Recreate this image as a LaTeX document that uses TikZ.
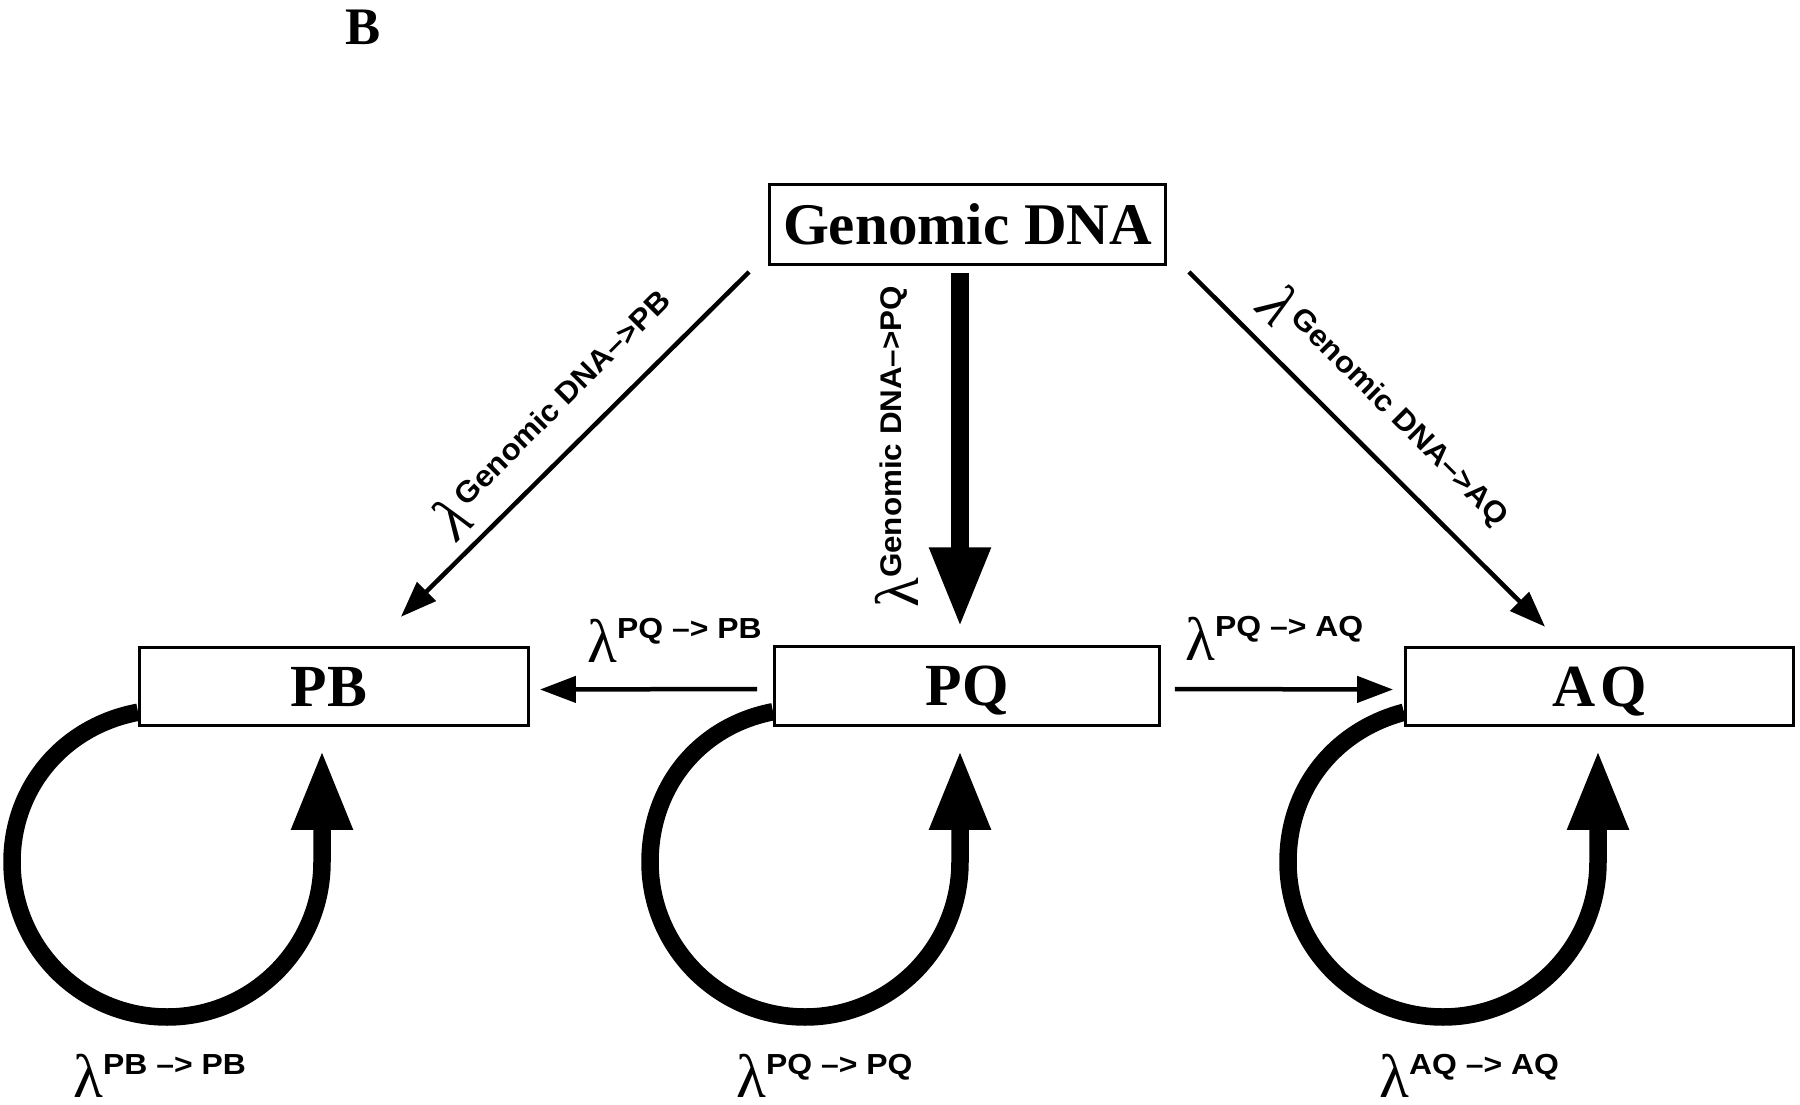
\documentclass[tikz,border=0pt]{standalone}
\usepackage{fontspec}
\setmainfont{Liberation Serif}
\newfontfamily\labfont[FakeStretch=1.1]{Liberation Sans}
\newfontfamily\labfontr[FakeStretch=1.05]{Liberation Sans}
\newfontfamily\lamfont{Liberation Serif}
\usetikzlibrary{arrows.meta,calc}
\newcommand\rlab[3]{{\lamfont\fontsize{35}{40}\selectfont #1}\raisebox{#2}{\labfont\bfseries\fontsize{16.5}{19}\selectfont #3}}
\newcommand\dlab[3]{{\lamfont\fontsize{35}{40}\selectfont #1}\raisebox{#2}{\labfontr\bfseries\fontsize{17}{20}\selectfont #3}}
\begin{document}
\begin{tikzpicture}[x=0.02cm,y=-0.02cm,
  box/.style={draw,line width=0.06cm,inner sep=0pt,minimum height=1.57cm,text height=22.5pt,text depth=0pt,font=\fontsize{34}{40}\selectfont\bfseries},
  thinarrow/.style={line width=0.09cm,-{Triangle[length=0.72cm,width=0.52cm]}},
  thickarrow/.style={line width=0.35cm,-{Triangle[length=1.6cm,width=1.14cm]}},
  lab/.style={inner sep=0pt,anchor=base west},
]
\useasboundingbox (0,0) rectangle (1800,1105);
% title
\node[font=\fontsize{30}{36}\selectfont\bfseries,inner sep=0pt] (title) at (363,27) {B};
% boxes
\node[box,minimum width=7.92cm,minimum height=1.6cm,text height=22.2pt,font=\fontsize{33.6}{40}\selectfont\bfseries] (gen) at (967.5,224.5) {Genomic DNA};
\node[box,minimum width=7.78cm] (pb) at (334,686.5) {\hspace*{-6pt}PB};
\node[box,minimum width=7.7cm] (pq) at (967,686) {PQ};
\node[box,minimum width=7.76cm] (aq) at (1599.5,686.5) {A\kern3pt Q};
% connectors
\draw[thinarrow] ([shift={(-16,3)}]pq.west) -- ([shift={(10,3)}]pb.east);
\draw[thinarrow] ([shift={(14,3)}]pq.east) -- ([shift={(-11,3)}]aq.west);
\draw[thickarrow] ([shift={(-7.5,7)}]gen.south) -- ([shift={(-7,-18)}]pq.north);
\draw[thinarrow] ([shift={(-19,6)}]gen.south west) -- ([shift={(-129,-29)}]pb.north east);
\draw[thinarrow] ([shift={(22,6)}]gen.south east) -- ([shift={(141,-19)}]aq.north west);
% self loops
\coordinate (pbtip) at (322,750);
\coordinate (pqtip) at (960,750);
\coordinate (aqtip) at (1598,750);
\draw[thickarrow] ([shift={(0,-15)}]pb.south west) .. controls (64,726) and (12,787) .. (12,862)
  .. controls (12,947.6) and (81.4,1017) .. (167,1017)
  .. controls (252.6,1017) and (322,947.6) .. (322,862) -- (pbtip);
\draw[thickarrow] ([shift={(0,-15)}]pq.south west) .. controls (699,726) and (650,787) .. (650,862)
  .. controls (650,947.6) and (719.4,1017) .. (805,1017)
  .. controls (890.6,1017) and (960,947.6) .. (960,862) -- (pqtip);
\draw[thickarrow] ([shift={(0,-15)}]aq.south west) .. controls (1336,730) and (1288,787) .. (1288,862)
  .. controls (1288,947.6) and (1357.4,1017) .. (1443,1017)
  .. controls (1528.6,1017) and (1598,947.6) .. (1598,862) -- (aqtip);
% labels
\node[lab] (lpqpb) at (587,662) {\rlab{λ}{0.48cm}{PQ –> PB}};
\node[lab] (lpqaq) at (1185,660) {\rlab{λ}{0.48cm}{PQ –> AQ}};
\node[lab] (lpbpb) at (73,1097) {\rlab{λ}{0.46cm}{PB –> PB}};
\node[lab] (lpqpq) at (736,1097) {\rlab{λ}{0.46cm}{PQ –> PQ}};
\node[lab] (laqaq) at (1379,1097) {\rlab{λ}{0.46cm}{AQ –> AQ}};
\node[lab,rotate=45] (lgpb) at (457,543) {\dlab{\itshape λ}{0.36cm}{\,Genomic DNA–>PB}};
\node[lab,rotate=90] (lgpq) at (918,608) {\dlab{λ}{0.34cm}{Genomic DNA–>PQ}};
\node[lab,rotate=-45] (lgaq) at (1254,310) {\dlab{\itshape λ}{0.36cm}{\,Genomic DNA–>AQ}};
\end{tikzpicture}
\end{document}
